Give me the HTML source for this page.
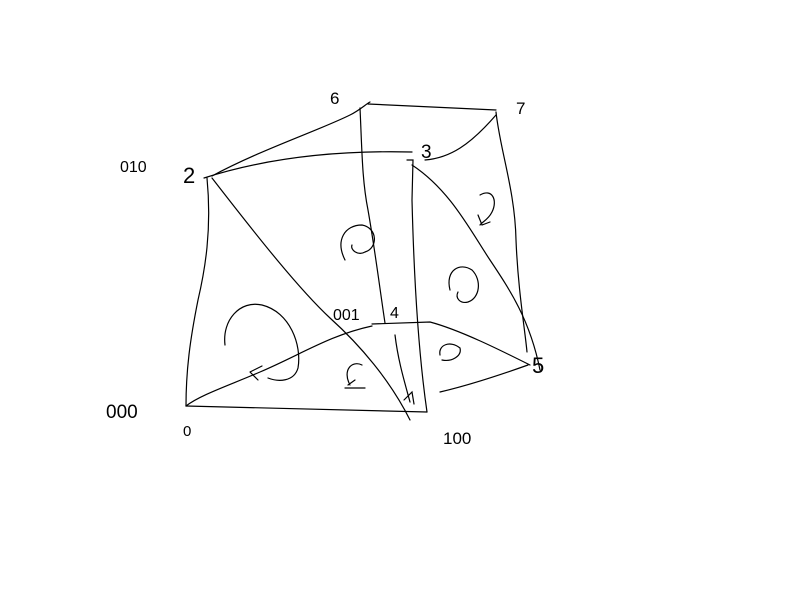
<!DOCTYPE html>
<html><head><meta charset="utf-8"><style>
html,body{margin:0;padding:0;background:#fff;}
svg{display:block}
text{font-family:"Liberation Sans",sans-serif;fill:#000;}
</style></head><body>
<svg width="800" height="600" viewBox="0 0 800 600">
<g fill="none" stroke="#000" stroke-width="1.2" stroke-linecap="round">
<path d="M207,178 C212,230 205,270 198,300 C190,340 186,370 186,406"/>
<path d="M186,406 L427,412"/>
<path d="M204,178 C260,160 330,150 412,152"/>
<path d="M407,160 L413,160 L412,200 C414,280 418,350 427,412"/>
<path d="M212,176 C260,150 320,130 350,115 C360,110 366,104 370,102"/>
<path d="M368,104 L496,110"/>
<path d="M496,112 C500,150 515,190 516,240 C518,290 525,330 527,352"/>
<path d="M425,160 C450,158 470,145 496,115"/>
<path d="M360,108 C362,150 362,180 368,210 C375,250 380,290 385,323"/>
<path d="M212,178 C260,240 300,290 330,318 C360,345 390,380 410,420"/>
<path d="M372,324 L430,322 C460,330 500,350 530,365"/>
<path d="M412,165 C450,190 470,230 490,260 C510,290 530,320 540,370"/>
<path d="M186,406 C200,395 230,385 260,372 C300,355 330,335 372,326"/>
<path d="M528,365 C500,375 470,385 440,392"/>
<path d="M395,335 C398,360 404,380 410,402"/>
<path d="M250,372 L262,366 M250,372 L258,380"/>
<path d="M225,345 C222,320 240,300 262,305 C290,312 302,345 298,368 C294,382 278,382 268,378"/>
<path d="M345,260 C335,240 345,225 362,225 C378,228 378,248 365,252 C358,256 350,250 352,245"/>
<path d="M450,290 C445,270 460,262 472,270 C482,280 480,298 468,302 C460,304 455,298 458,292"/>
<path d="M480,195 C492,188 498,200 492,212 C488,220 482,222 480,225 M478,215 L482,225 L490,222"/>
<path d="M350,385 C342,370 352,360 362,365 M348,385 L355,380 M345,388 L365,388"/>
<path d="M440,355 C438,345 450,340 460,348 C462,356 452,362 442,360"/>
<path d="M404,400 L412,392 L414,404"/>
</g>
<g font-size="17">
<text x="330" y="104">6</text>
<text x="516" y="114">7</text>
<text x="120" y="172" font-size="16">010</text>
<text x="183" y="183" font-size="22">2</text>
<text x="421" y="158" font-size="19">3</text>
<text x="333" y="320" font-size="16">001</text>
<text x="390" y="318" font-size="16">4</text>
<text x="106" y="418" font-size="19">000</text>
<text x="183" y="436" font-size="15">0</text>
<text x="443" y="444" font-size="17">100</text>
<text x="532" y="373" font-size="22">5</text>
</g>
</svg>
</body></html>
